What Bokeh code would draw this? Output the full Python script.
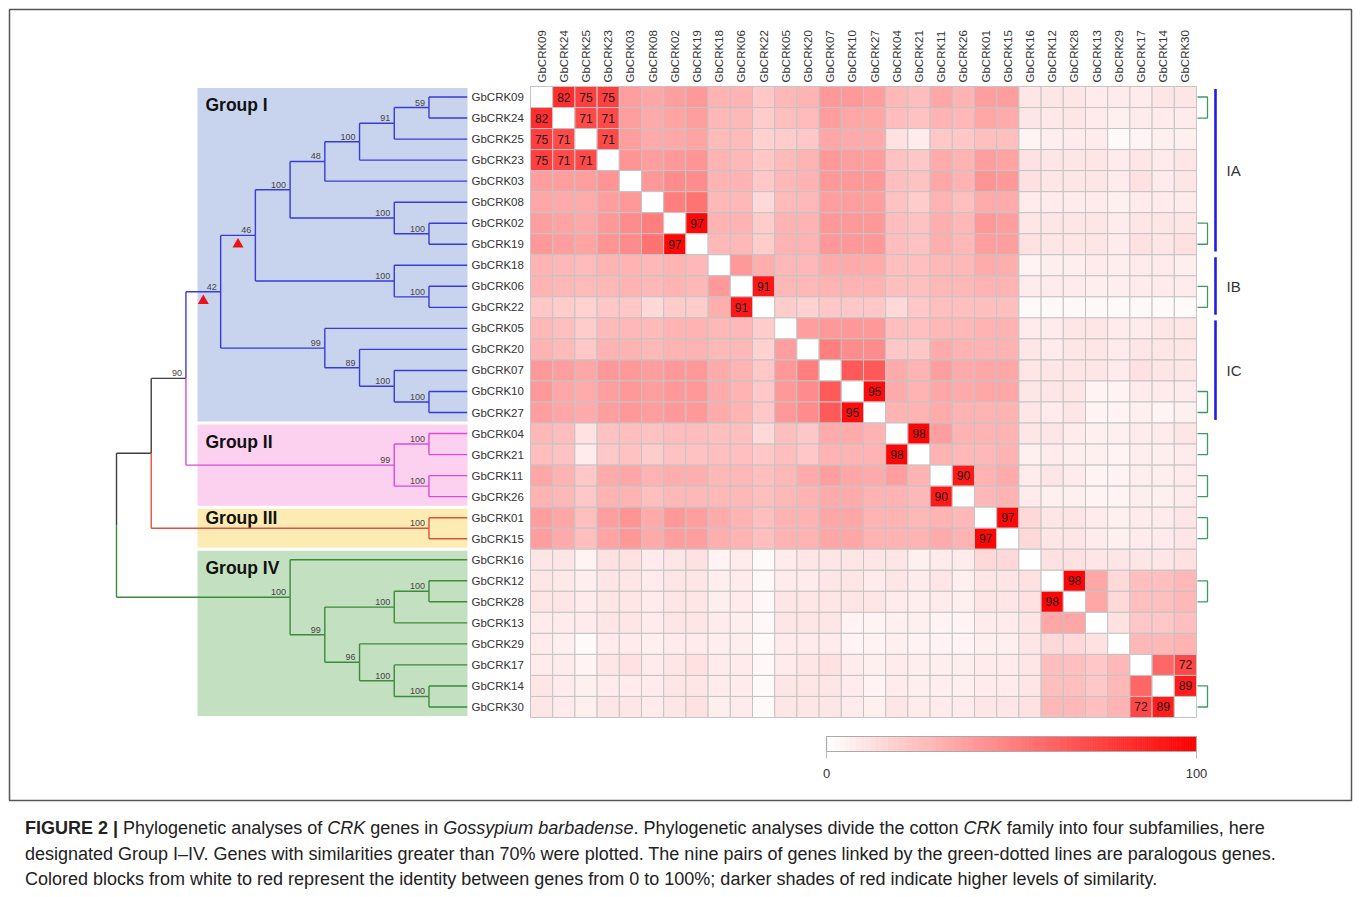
import math
import numpy as np
from bokeh.plotting import figure
from bokeh.models import Range1d, ColumnDataSource, LinearColorMapper, Div
from bokeh.layouts import column
from bokeh.transform import transform
from bokeh.embed import file_html
from bokeh.resources import INLINE
from bokeh.core.properties import value

# ---------------- data ----------------
genes = ["GbCRK09", "GbCRK24", "GbCRK25", "GbCRK23", "GbCRK03", "GbCRK08", "GbCRK02", "GbCRK19",
         "GbCRK18", "GbCRK06", "GbCRK22", "GbCRK05", "GbCRK20", "GbCRK07", "GbCRK10", "GbCRK27",
         "GbCRK04", "GbCRK21", "GbCRK11", "GbCRK26", "GbCRK01", "GbCRK15", "GbCRK16", "GbCRK12",
         "GbCRK28", "GbCRK13", "GbCRK29", "GbCRK17", "GbCRK14", "GbCRK30"]

# lower triangle of identity (%) matrix, row i holds columns 0..i-1
identity_lower = [
    [],
    [82],
    [75, 71],
    [75, 71, 71],
    [38, 38, 38, 42],
    [35, 33, 33, 38, 40],
    [38, 36, 34, 40, 45, 50],
    [40, 38, 36, 42, 45, 55, 97],
    [30, 28, 27, 30, 30, 28, 30, 28],
    [30, 28, 27, 28, 30, 28, 30, 28, 40],
    [22, 20, 18, 22, 22, 15, 20, 20, 32, 91],
    [28, 25, 20, 27, 28, 27, 30, 30, 28, 28, 20],
    [30, 27, 22, 30, 30, 28, 30, 30, 28, 28, 18, 38],
    [40, 38, 35, 40, 40, 38, 40, 40, 33, 30, 22, 40, 50],
    [40, 35, 33, 38, 40, 38, 40, 40, 33, 30, 22, 40, 45, 65],
    [38, 35, 33, 38, 40, 38, 40, 40, 33, 30, 22, 40, 45, 65, 95],
    [28, 26, 12, 24, 25, 24, 26, 26, 25, 25, 15, 25, 22, 33, 33, 30],
    [26, 24, 8, 22, 24, 20, 24, 24, 25, 25, 22, 25, 22, 30, 30, 30, 98],
    [35, 30, 22, 33, 35, 30, 32, 32, 28, 28, 25, 28, 33, 38, 35, 33, 38, 30],
    [30, 28, 22, 30, 30, 25, 28, 28, 28, 28, 25, 28, 30, 33, 33, 30, 30, 28, 90],
    [38, 35, 25, 38, 42, 33, 40, 38, 33, 30, 25, 30, 30, 35, 35, 30, 30, 28, 30, 28],
    [38, 33, 25, 36, 40, 33, 38, 38, 32, 30, 25, 30, 30, 35, 35, 30, 30, 30, 33, 30, 97],
    [10, 10, 5, 12, 12, 8, 10, 12, 5, 8, 2, 8, 10, 10, 10, 10, 10, 6, 8, 8, 15, 15],
    [10, 9, 7, 10, 10, 8, 10, 10, 7, 8, 3, 8, 8, 10, 10, 8, 10, 8, 10, 6, 10, 10, 12],
    [10, 10, 8, 10, 10, 8, 10, 10, 7, 8, 3, 10, 10, 10, 10, 10, 8, 7, 8, 6, 10, 10, 12, 98],
    [8, 8, 8, 10, 10, 8, 10, 10, 8, 7, 3, 10, 10, 10, 5, 5, 6, 6, 5, 5, 8, 8, 10, 35, 35],
    [8, 6, 2, 8, 8, 6, 8, 8, 7, 7, 2, 8, 8, 8, 5, 5, 6, 5, 5, 5, 6, 6, 10, 15, 15, 12],
    [8, 8, 5, 10, 12, 8, 10, 12, 8, 8, 3, 8, 10, 12, 8, 6, 8, 7, 7, 7, 8, 8, 10, 25, 25, 22, 28],
    [10, 8, 6, 8, 8, 8, 10, 10, 8, 8, 2, 10, 10, 10, 8, 5, 8, 7, 7, 6, 8, 8, 10, 25, 25, 22, 28, 60],
    [10, 8, 6, 10, 10, 8, 10, 12, 7, 8, 2, 10, 10, 10, 8, 6, 10, 8, 8, 8, 10, 10, 12, 28, 28, 25, 30, 72, 89],
]
label_threshold = 70

# tree: (bootstrap, depth level, clade colour key, children[, marked with triangle])
tree = ("", 0, "k", [
    ("", 1, "k", [
        ("90", 2, "k", [
            ("42", 3, "b", [
                ("46", 4, "b", [
                    ("100", 5, "b", [
                        ("48", 6, "b", [
                            ("100", 7, "b", [
                                ("91", 8, "b", [
                                    ("59", 9, "b", ["GbCRK09", "GbCRK24"]),
                                    "GbCRK25"]),
                                "GbCRK23"]),
                            "GbCRK03"]),
                        ("100", 8, "b", ["GbCRK08", ("100", 9, "b", ["GbCRK02", "GbCRK19"])])]),
                    ("100", 8, "b", ["GbCRK18", ("100", 9, "b", ["GbCRK06", "GbCRK22"])])], True),
                ("99", 6, "b", ["GbCRK05",
                                ("89", 7, "b", ["GbCRK20",
                                                ("100", 8, "b", ["GbCRK07",
                                                                 ("100", 9, "b", ["GbCRK10", "GbCRK27"])])])])], True),
            ("99", 8, "m", [("100", 9, "m", ["GbCRK04", "GbCRK21"]),
                            ("100", 9, "m", ["GbCRK11", "GbCRK26"])])]),
        ("100", 9, "r", ["GbCRK01", "GbCRK15"])]),
    ("100", 5, "g", ["GbCRK16",
                     ("99", 6, "g", [("100", 8, "g", [("100", 9, "g", ["GbCRK12", "GbCRK28"]), "GbCRK13"]),
                                     ("96", 7, "g", ["GbCRK29",
                                                     ("100", 8, "g", ["GbCRK17",
                                                                      ("100", 9, "g", ["GbCRK14", "GbCRK30"])])])])])])
leaf_level = 10.1
clade_colors = {"k": "#3f3f3f", "b": "#3a3ad8", "m": "#d84cd8", "r": "#e2513d", "g": "#3d8a3d"}

groups = ["Group I", "Group II", "Group III", "Group IV"]
group_first = ["GbCRK09", "GbCRK04", "GbCRK01", "GbCRK16"]
group_last = ["GbCRK27", "GbCRK26", "GbCRK15", "GbCRK30"]
group_fill = ["#c8d4ee", "#fcd0ef", "#fcebb3", "#c3e0c1"]

subgroups = ["IA", "IB", "IC"]
subgroup_first = ["GbCRK09", "GbCRK18", "GbCRK05"]
subgroup_last = ["GbCRK19", "GbCRK22", "GbCRK27"]

paralog_a = ["GbCRK09", "GbCRK02", "GbCRK06", "GbCRK10", "GbCRK04", "GbCRK11", "GbCRK01", "GbCRK12", "GbCRK14"]
paralog_b = ["GbCRK24", "GbCRK19", "GbCRK22", "GbCRK27", "GbCRK21", "GbCRK26", "GbCRK15", "GbCRK28", "GbCRK30"]

colorbar_ticks = [0, 100]

# ---------------- layout geometry (page pixels) ----------------
W, H = 1356, 808
HM_LEFT, HM_RIGHT, HM_TOP, HM_BOTTOM = 530.0, 1196.0, 86.0, 717.0
CELL_W = (HM_RIGHT - HM_LEFT) / 30.0
CELL_H = (HM_BOTTOM - HM_TOP) / 30.0
TREE_X0, TREE_STEP = 116.0, 34.72
CB_X0, CB_X1 = 826.0, 1196.0
CB_SCALE = (CB_X1 - CB_X0) / 100.0

x_start = -0.5 - HM_LEFT / CELL_W
y_top = -0.5 - HM_TOP / CELL_H
t_start = -TREE_X0 / TREE_STEP
c_start = -CB_X0 / CB_SCALE

FONT = "Liberation Sans"
idx = {g: i for i, g in enumerate(genes)}
n = len(genes)

p = figure(width=W, height=H, output_backend="svg", toolbar_location=None,
           x_range=Range1d(x_start, x_start + W / CELL_W),
           y_range=Range1d(y_top + H / CELL_H, y_top),
           x_axis_location=None, y_axis_location=None, min_border=0,
           outline_line_color=None, background_fill_color="white", border_fill_color="white")
p.grid.visible = False
p.extra_x_ranges = {"px": Range1d(0, W),
                    "tree": Range1d(t_start, t_start + W / TREE_STEP),
                    "cbar": Range1d(c_start, c_start + W / CB_SCALE)}
p.extra_y_ranges = {"px": Range1d(H, 0)}

# frame
p.quad(left=[9], right=[1351], top=[9], bottom=[800], x_range_name="px", y_range_name="px",
       fill_color=None, line_color="#555555", line_width=1.5)

# group backgrounds
gap = 0.07
p.quad(left=197, right=467, x_range_name="px",
       top=[idx[a] - 0.5 + gap for a in group_first],
       bottom=[idx[b] + 0.5 - gap for b in group_last],
       fill_color=group_fill, line_color=None)
lab_y = [idx[a] - 0.5 + min(0.9, (idx[b] - idx[a] + 1) * 0.25) for a, b in zip(group_first, group_last)]
p.text(x=[205] * 4, y=lab_y, text=groups, x_range_name="px", text_font=value(FONT),
       text_font_style="bold", text_font_size="17.5px", text_color="#111111",
       text_align="left", text_baseline="middle")

# tree layout
hx0, hx1, hy, hc = [], [], [], []
vx, vy0, vy1, vc = [], [], [], []
bx, by, bt = [], [], []
tx, ty = [], []


def walk(node, parent_color, parent_level):
    if isinstance(node, str):
        return idx[node], leaf_level, parent_color
    boot, lvl, ck, children = node[:4]
    marked = len(node) > 4 and node[4]
    col = clade_colors[ck]
    res = [walk(c, col, lvl) for c in children]
    y = (res[0][0] + res[-1][0]) / 2.0
    for cy, clvl, ccol in res:
        hx0.append(lvl); hx1.append(clvl); hy.append(cy); hc.append(ccol)
        vx.append(lvl); vy0.append(y); vy1.append(cy); vc.append(ccol)
    if boot:
        bx.append(lvl); by.append(y); bt.append(boot)
    if marked:
        tx.append((parent_level + lvl) / 2.0)
        ty.append(y + 0.43)
    return y, lvl, col


walk(tree, clade_colors["k"], 0)

p.segment(x0=hx0, x1=hx1, y0=hy, y1=hy, line_color=hc, line_width=1.4, x_range_name="tree")
p.segment(x0=vx, x1=vx, y0=vy0, y1=vy1, line_color=vc, line_width=1.4, x_range_name="tree")
p.text(x=bx, y=by, text=bt, x_range_name="tree", x_offset=-4, y_offset=-2,
       text_font=value(FONT), text_font_size="9px", text_color="#444444",
       text_align="right", text_baseline="bottom")
p.scatter(x=tx, y=ty, x_range_name="tree", marker="triangle", size=11,
          fill_color="#ee1111", line_color=None)

# row labels
p.text(x=[471] * n, y=list(range(n)), text=genes, x_range_name="px",
       text_font=value(FONT), text_font_size="11.5px", text_color="#333333",
       text_align="left", text_baseline="middle")
# column labels
p.text(x=list(range(n)), y=[82] * n, text=genes, y_range_name="px", angle=math.pi / 2,
       text_font=value(FONT), text_font_size="11.5px", text_color="#333333",
       text_align="left", text_baseline="middle")

# heatmap
M = np.full((n, n), np.nan)
for i, row in enumerate(identity_lower):
    for j, v in enumerate(row):
        M[i, j] = v
        M[j, i] = v
xs, ys, vs = [], [], []
for i in range(n):
    for j in range(n):
        xs.append(j); ys.append(i); vs.append(M[i, j])
palette = ["#ff%02x%02x" % (g, g) for g in np.linspace(255, 0, 256).round().astype(int)]
mapper = LinearColorMapper(palette=palette, low=0, high=100, nan_color="white")
src = ColumnDataSource(dict(x=xs, y=ys, v=vs))
p.rect(x="x", y="y", width=1, height=1, source=src, fill_color=transform("v", mapper),
       line_color="#c4c4c4", line_width=1)

lx, ly, lt = [], [], []
for i in range(n):
    for j in range(n):
        if i != j and M[i, j] > label_threshold:
            lx.append(j); ly.append(i); lt.append(str(int(M[i, j])))
p.text(x=lx, y=ly, text=lt, text_font=value(FONT), text_font_size="12px", text_color="#1a1a1a",
       text_align="center", text_baseline="middle")

# paralog brackets
bxs, bys = [], []
for a, b in zip(paralog_a, paralog_b):
    bxs.append([1197, 1207, 1207, 1197])
    bys.append([idx[a], idx[a], idx[b], idx[b]])
p.multi_line(xs=bxs, ys=bys, x_range_name="px", line_color="#3f9a62", line_width=1.3)

# subgroup bars
p.segment(x0=1215, x1=1215, x_range_name="px",
          y0=[idx[a] - 0.38 for a in subgroup_first], y1=[idx[b] + 0.35 for b in subgroup_last],
          line_color="#1e1ee6", line_width=2.6)
p.text(x=[1226] * 3, y=[(idx[a] + idx[b]) / 2.0 for a, b in zip(subgroup_first, subgroup_last)],
       text=subgroups, x_range_name="px", text_font=value(FONT), text_font_size="15px",
       text_color="#333333", text_align="left", text_baseline="middle")

# colour bar
steps = np.linspace(0, 100, 201)
cb = ColumnDataSource(dict(l=steps[:-1], r=steps[1:], v=(steps[:-1] + steps[1:]) / 2))
p.quad(left="l", right="r", top=736, bottom=751, source=cb, x_range_name="cbar", y_range_name="px",
       fill_color=transform("v", mapper), line_color=transform("v", mapper), line_width=0.8)
p.quad(left=[colorbar_ticks[0]], right=[colorbar_ticks[-1]], top=[736], bottom=[751],
       x_range_name="cbar", y_range_name="px", fill_color=None, line_color="#aaaaaa", line_width=1.2)
p.segment(x0=colorbar_ticks, x1=colorbar_ticks, y0=751, y1=758, x_range_name="cbar",
          y_range_name="px", line_color="#bbbbbb", line_width=1)
p.text(x=colorbar_ticks, y=[773, 773], text=[str(t) for t in colorbar_ticks], x_range_name="cbar",
       y_range_name="px", text_font=value(FONT), text_font_size="13px", text_color="#333333",
       text_align="center", text_baseline="middle")

caption = ('<div style="padding:8px 0 0 25px;font-family:\'Liberation Sans\',Arial,sans-serif;'
           'font-size:18px;line-height:25.5px;color:#222;white-space:nowrap;">'
           '<b>FIGURE 2 |</b> Phylogenetic analyses of <i>CRK</i> genes in <i>Gossypium barbadense</i>. '
           'Phylogenetic analyses divide the cotton <i>CRK</i> family into four subfamilies, here<br>'
           'designated Group I&ndash;IV. Genes with similarities greater than 70% were plotted. '
           'The nine pairs of genes linked by the green-dotted lines are paralogous genes.<br>'
           'Colored blocks from white to red represent the identity between genes from 0 to 100%; '
           'darker shades of red indicate higher levels of similarity.</div>')
div = Div(text=caption, width=W, height=80, margin=(0, 0, 0, 0))

layout = column(p, div, spacing=0)
open("out.html", "w").write(file_html(layout, INLINE))
